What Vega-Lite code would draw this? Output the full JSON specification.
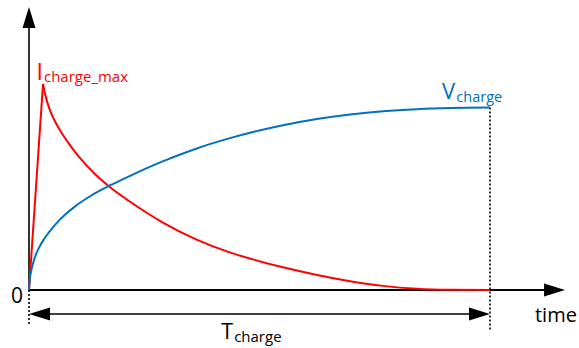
{
  "$schema": "https://vega.github.io/schema/vega-lite/v6.json",
  "width": 579,
  "height": 348,
  "padding": 0,
  "autosize": {"type": "none"},
  "background": "white",
  "config": {"view": {"stroke": null}},
  "datasets": {
    "curves": [
      {"series": "I", "seg": "rise", "t": 0, "v": 0},
      {"series": "I", "seg": "rise", "t": 3.04, "v": 100},
      {"series": "I", "seg": "decay", "t": 3.04, "v": 100},
      {"series": "I", "seg": "decay", "t": 3.5, "v": 95},
      {"series": "I", "seg": "decay", "t": 4.34, "v": 88.5},
      {"series": "I", "seg": "decay", "t": 5.5, "v": 82.5},
      {"series": "I", "seg": "decay", "t": 7.16, "v": 76},
      {"series": "I", "seg": "decay", "t": 9.0, "v": 70},
      {"series": "I", "seg": "decay", "t": 10.85, "v": 64.6},
      {"series": "I", "seg": "decay", "t": 14.53, "v": 55.8},
      {"series": "I", "seg": "decay", "t": 17.79, "v": 49.5},
      {"series": "I", "seg": "decay", "t": 21.69, "v": 43.2},
      {"series": "I", "seg": "decay", "t": 28.85, "v": 33.0},
      {"series": "I", "seg": "decay", "t": 36.23, "v": 24.6},
      {"series": "I", "seg": "decay", "t": 43.38, "v": 18.4},
      {"series": "I", "seg": "decay", "t": 48.37, "v": 15.0},
      {"series": "I", "seg": "decay", "t": 55.10, "v": 11.0},
      {"series": "I", "seg": "decay", "t": 62.47, "v": 7.3},
      {"series": "I", "seg": "decay", "t": 69.63, "v": 4.3},
      {"series": "I", "seg": "decay", "t": 76.79, "v": 2.0},
      {"series": "I", "seg": "decay", "t": 84.16, "v": 0.6},
      {"series": "I", "seg": "decay", "t": 91.32, "v": 0.1},
      {"series": "I", "seg": "decay", "t": 100, "v": 0},
      {"series": "V", "seg": "v", "t": 0, "v": 0},
      {"series": "V", "seg": "v", "t": 0.2, "v": 5.5},
      {"series": "V", "seg": "v", "t": 0.6, "v": 10.5},
      {"series": "V", "seg": "v", "t": 1.3, "v": 16},
      {"series": "V", "seg": "v", "t": 2.4, "v": 21.5},
      {"series": "V", "seg": "v", "t": 3.5, "v": 25.5},
      {"series": "V", "seg": "v", "t": 5.6, "v": 31.5},
      {"series": "V", "seg": "v", "t": 7.8, "v": 36.5},
      {"series": "V", "seg": "v", "t": 10, "v": 40.6},
      {"series": "V", "seg": "v", "t": 13.6, "v": 46.0},
      {"series": "V", "seg": "v", "t": 17.8, "v": 51.0},
      {"series": "V", "seg": "v", "t": 21.7, "v": 55.2},
      {"series": "V", "seg": "v", "t": 28.85, "v": 62.3},
      {"series": "V", "seg": "v", "t": 36.23, "v": 68.6},
      {"series": "V", "seg": "v", "t": 43.38, "v": 73.6},
      {"series": "V", "seg": "v", "t": 48.37, "v": 76.6},
      {"series": "V", "seg": "v", "t": 55.10, "v": 80.0},
      {"series": "V", "seg": "v", "t": 62.47, "v": 83.0},
      {"series": "V", "seg": "v", "t": 69.63, "v": 85.2},
      {"series": "V", "seg": "v", "t": 76.79, "v": 86.8},
      {"series": "V", "seg": "v", "t": 84.16, "v": 87.8},
      {"series": "V", "seg": "v", "t": 91.32, "v": 88.35},
      {"series": "V", "seg": "v", "t": 100, "v": 88.6}
    ],
    "solidLines": [
      {"t1": 0, "v1": 0, "t2": 0, "v2": 128, "w": 1.6},
      {"t1": 0, "v1": 0, "t2": 112.5, "v2": 0, "w": 1.8},
      {"t1": 2, "v1": -11.65, "t2": 98, "v2": -11.65, "w": 1.6}
    ],
    "dottedLines": [
      {"t1": 0, "v1": 0, "t2": 0, "v2": -17},
      {"t1": 100, "v1": 88.6, "t2": 100, "v2": -19.4}
    ],
    "arrows": [
      {"dir": "up", "t": 0, "v": 132.3},
      {"dir": "right", "t": 114.0, "v": 0},
      {"dir": "left", "t": 2.28, "v": -11.65},
      {"dir": "right", "t": 97.72, "v": -11.65}
    ],
    "labels": [
      {"text": "I", "t": 1.6, "v": 101.94, "size": 23, "col": "#ff0000"},
      {"text": "charge_max", "t": 3.25, "v": 100.97, "size": 15, "col": "#ff0000"},
      {"text": "V", "t": 89.59, "v": 92.72, "size": 22, "col": "#0070c0"},
      {"text": "charge", "t": 92.7, "v": 91.26, "size": 14.5, "col": "#0070c0"},
      {"text": "T", "t": 41.7, "v": -23.79, "size": 21.5, "col": "#000000"},
      {"text": "charge", "t": 44.5, "v": -25.24, "size": 15, "col": "#000000"},
      {"text": "time", "t": 109.76, "v": -15.53, "size": 20, "col": "#000000"}
    ],
    "zero": [
      {"text": "0", "t": -2.6, "v": -6.31}
    ]
  },
  "encoding": {
    "x": {"type": "quantitative", "scale": {"domain": [-6.2907, 119.3059], "nice": false, "zero": false}, "axis": null},
    "y": {"type": "quantitative", "scale": {"domain": [-28.1553, 140.7767], "nice": false, "zero": false}, "axis": null}
  },
  "layer": [
    {
      "data": {"name": "solidLines"},
      "mark": {"type": "rule", "color": "black"},
      "encoding": {
        "x": {"field": "t1", "type": "quantitative"},
        "y": {"field": "v1", "type": "quantitative"},
        "x2": {"field": "t2"},
        "y2": {"field": "v2"},
        "strokeWidth": {"field": "w", "type": "quantitative", "scale": null}
      }
    },
    {
      "data": {"name": "dottedLines"},
      "mark": {"type": "rule", "color": "black", "strokeWidth": 1.6, "strokeDash": [2, 2]},
      "encoding": {
        "x": {"field": "t1", "type": "quantitative"},
        "y": {"field": "v1", "type": "quantitative"},
        "x2": {"field": "t2"},
        "y2": {"field": "v2"}
      }
    },
    {
      "data": {"name": "arrows"},
      "mark": {"type": "point", "filled": true, "color": "black", "size": 441, "opacity": 1, "strokeWidth": 0},
      "encoding": {
        "x": {"field": "t", "type": "quantitative"},
        "y": {"field": "v", "type": "quantitative"},
        "shape": {
          "field": "dir",
          "type": "nominal",
          "scale": {
            "domain": ["up", "right", "left"],
            "range": ["M0,-1L-0.62,1L0.62,1Z", "M1,0L-1,-0.62L-1,0.62Z", "M-1,0L1,-0.62L1,0.62Z"]
          },
          "legend": null
        }
      }
    },
    {
      "data": {"name": "curves"},
      "mark": {"type": "line", "interpolate": "monotone", "strokeWidth": 2},
      "encoding": {
        "x": {"field": "t", "type": "quantitative"},
        "y": {"field": "v", "type": "quantitative"},
        "color": {"field": "series", "type": "nominal", "scale": {"domain": ["I", "V"], "range": ["#ff0000", "#0070c0"]}, "legend": null},
        "detail": {"field": "seg"},
        "order": {"field": "t"}
      }
    },
    {
      "data": {"name": "labels"},
      "mark": {"type": "text", "font": "Open Sans", "align": "left", "baseline": "alphabetic"},
      "encoding": {
        "x": {"field": "t", "type": "quantitative"},
        "y": {"field": "v", "type": "quantitative"},
        "text": {"field": "text"},
        "size": {"field": "size", "type": "quantitative", "scale": null},
        "color": {"field": "col", "type": "nominal", "scale": null}
      }
    },
    {
      "data": {"name": "zero"},
      "mark": {"type": "text", "font": "Open Sans", "align": "center", "baseline": "alphabetic", "fontSize": 21, "color": "black"},
      "encoding": {
        "x": {"field": "t", "type": "quantitative"},
        "y": {"field": "v", "type": "quantitative"},
        "text": {"field": "text"}
      }
    }
  ]
}
